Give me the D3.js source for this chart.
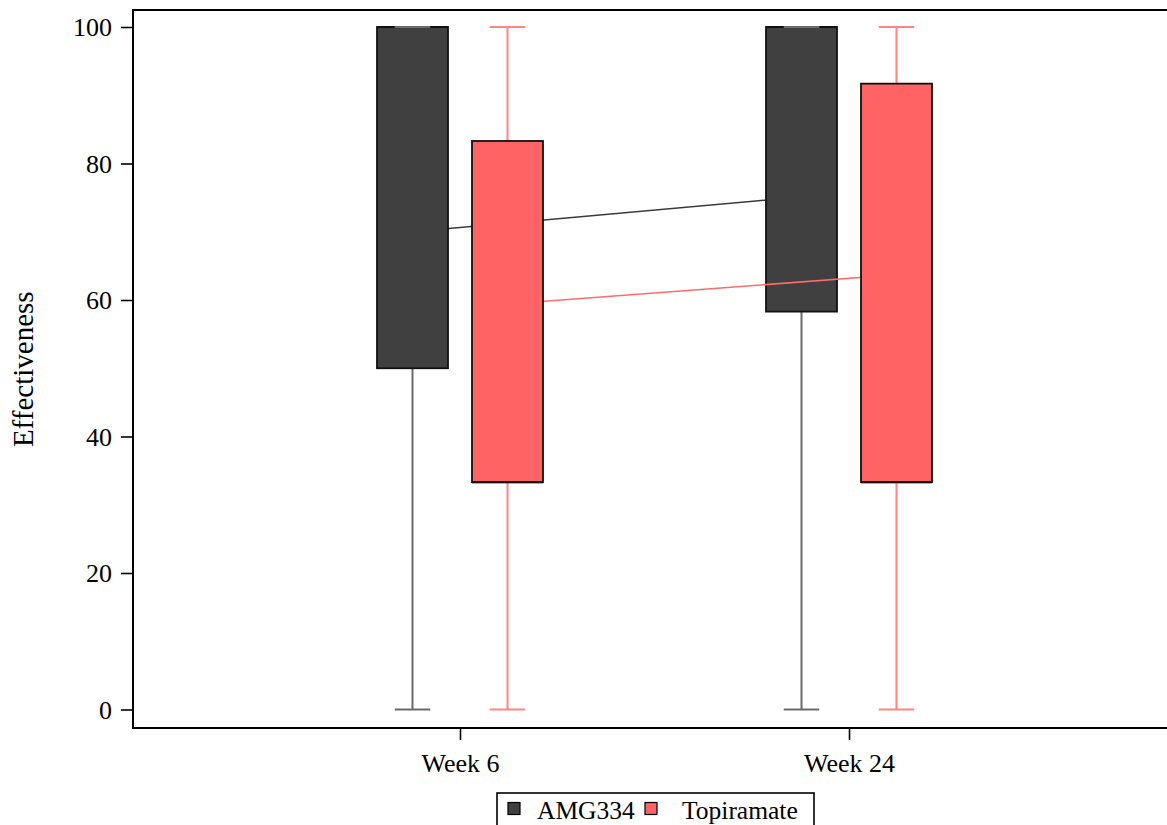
<!DOCTYPE html>
<html><head><meta charset="utf-8">
<script src="https://cdn.jsdelivr.net/npm/d3@7"></script>
<style>body{margin:0;background:#fff}svg{display:block}text{font-family:"Liberation Serif","Times New Roman",serif;fill:#000}</style>
</head><body>
<script>
const categories = ["Week 6", "Week 24"];
const seriesNames = ["AMG334", "Topiramate"];
const whiskerLow = { "AMG334": [0, 0], "Topiramate": [0, 0] };
const q1Values   = { "AMG334": [50, 58.3], "Topiramate": [33.3, 33.3] };
const medians    = { "AMG334": [100, 100], "Topiramate": [33.3, 33.3] };
const q3Values   = { "AMG334": [100, 100], "Topiramate": [83.3, 91.7] };
const whiskerHigh= { "AMG334": [100, 100], "Topiramate": [100, 100] };
const means      = { "AMG334": [70.0, 75.1], "Topiramate": [59.4, 63.7] };
const yTicks = [0, 20, 40, 60, 80, 100];
const fills = { "AMG334": "#404040", "Topiramate": "#ff6363" };
const whiskerColors = { "AMG334": "#6b6b6b", "Topiramate": "#ff8585" };
const lineColors = { "AMG334": "#3a3a3a", "Topiramate": "#ff6b6b" };

const W = 1167, H = 825;
const mLeft = 133, mRight = 1176, mTop = 10, mBottom = 728;
const svg = d3.select("body").append("svg").attr("width", W).attr("height", H);

const x = d3.scalePoint().domain(categories).range([mLeft, mRight]).padding(0.8406);
const y = d3.scaleLinear().domain([0, 100]).range([709.5, 27]);
const off = d3.scaleBand().domain(seriesNames).range([-83, 83]).paddingInner(0.2526);
const bw = off.bandwidth();

// frame
svg.append("line").attr("x1", mLeft).attr("x2", W).attr("y1", mTop).attr("y2", mTop)
  .attr("stroke", "#000").attr("stroke-width", 2);

const gy = svg.append("g").attr("transform", `translate(${mLeft},0)`)
  .call(d3.axisLeft(y).tickValues(yTicks).tickSize(12).tickPadding(9));
gy.select(".domain").remove();
gy.selectAll(".tick line").attr("stroke", "#000").attr("stroke-width", 1.6);
gy.selectAll("text").style("font-size", "26px").attr("font-family", null).attr("dy", "0.34em");
svg.append("line").attr("x1", mLeft).attr("x2", mLeft).attr("y1", mTop - 1).attr("y2", mBottom + 1)
  .attr("stroke", "#000").attr("stroke-width", 2);

const gx = svg.append("g").attr("transform", `translate(0,${mBottom})`)
  .call(d3.axisBottom(x).tickSize(12).tickPadding(14));
gx.select(".domain").remove();
gx.selectAll(".tick line").attr("stroke", "#000").attr("stroke-width", 1.6);
gx.selectAll("text").style("font-size", "26px").attr("font-family", null);
svg.append("line").attr("x1", mLeft - 1).attr("x2", W).attr("y1", mBottom).attr("y2", mBottom)
  .attr("stroke", "#000").attr("stroke-width", 2);

svg.append("text").attr("transform", `translate(33,${(y(0)+y(100))/2+1}) rotate(-90)`)
  .attr("text-anchor", "middle").style("font-size", "29px").text("Effectiveness");

function cx(s, i) { return x(categories[i]) + off(s) + bw / 2; }

const line = d3.line().x(d => d[0]).y(d => d[1]);

seriesNames.forEach(s => {
  const g = svg.append("g");
  g.append("path").attr("d", line(categories.map((c, i) => [cx(s, i), y(means[s][i])])))
    .attr("fill", "none").attr("stroke", lineColors[s]).attr("stroke-width", 1.6);
  categories.forEach((c, i) => {
    const xc = cx(s, i), x0 = xc - bw / 2;
    g.append("line").attr("x1", xc).attr("x2", xc).attr("y1", y(whiskerLow[s][i])).attr("y2", y(q1Values[s][i]))
      .attr("stroke", whiskerColors[s]).attr("stroke-width", 2);
    g.append("line").attr("x1", xc).attr("x2", xc).attr("y1", y(whiskerHigh[s][i])).attr("y2", y(q3Values[s][i]))
      .attr("stroke", whiskerColors[s]).attr("stroke-width", 2);
    g.append("rect").attr("x", x0).attr("y", y(q3Values[s][i])).attr("width", bw)
      .attr("height", y(q1Values[s][i]) - y(q3Values[s][i]))
      .attr("fill", fills[s]).attr("stroke", "#111").attr("stroke-width", 1.8);
    g.append("line").attr("x1", x0).attr("x2", x0 + bw).attr("y1", y(medians[s][i])).attr("y2", y(medians[s][i]))
      .attr("stroke", "#111").attr("stroke-width", 1.8);
    [whiskerLow[s][i], whiskerHigh[s][i]].forEach(v => {
      g.append("line").attr("x1", xc - bw / 4).attr("x2", xc + bw / 4).attr("y1", y(v)).attr("y2", y(v))
        .attr("stroke", whiskerColors[s]).attr("stroke-width", 2);
    });
  });
});

// legend
const lg = svg.append("g");
lg.append("rect").attr("x", 497).attr("y", 793).attr("width", 317).attr("height", 40)
  .attr("fill", "#fff").attr("stroke", "#000").attr("stroke-width", 1.6);
const lx = [508, 645];
const ltx = [537, 682];
seriesNames.forEach((s, i) => {
  lg.append("rect").attr("x", lx[i]).attr("y", 802.5).attr("width", 12).attr("height", 12)
    .attr("fill", fills[s]).attr("stroke", "#000").attr("stroke-width", 1.2);
  lg.append("text").attr("x", ltx[i]).attr("y", 819).style("font-size", "25.5px").text(s);
});
</script>
</body></html>
